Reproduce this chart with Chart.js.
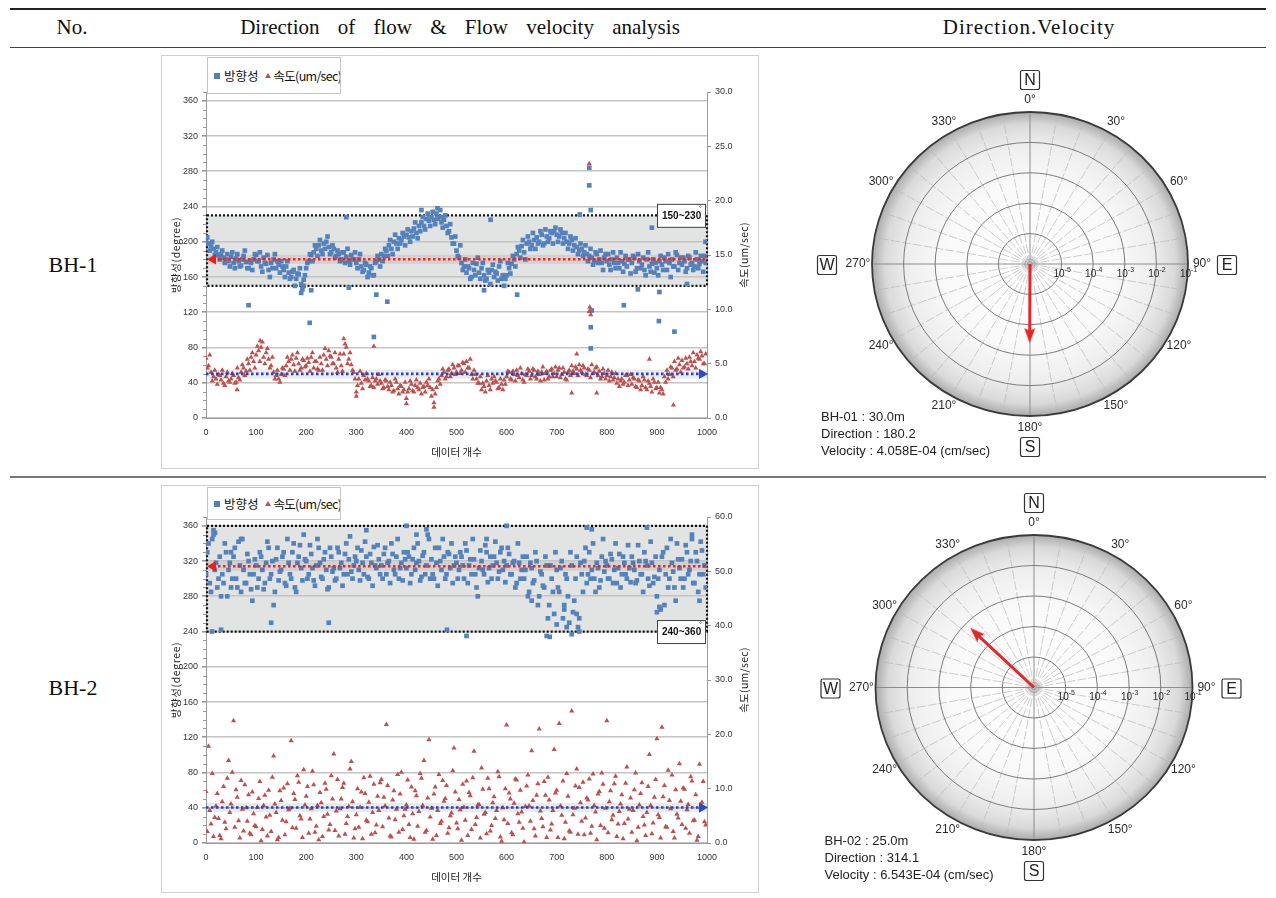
<!DOCTYPE html>
<html><head><meta charset="utf-8">
<script src="https://cdn.jsdelivr.net/npm/chart.js@4.4.1/dist/chart.umd.min.js"></script>
<style>
body{margin:0;background:#fff;width:1276px;height:898px;position:relative;overflow:hidden;font-family:"Liberation Serif",serif;color:#111}
.hl{position:absolute;left:10px;width:1256px}
.frame{position:absolute;border:1px solid #cfcfcf;box-sizing:border-box;pointer-events:none}
.hdr{position:absolute;top:15px;font-size:21px;white-space:nowrap;transform:translateX(-50%)}
.bh{position:absolute;font-size:22px;transform:translate(-50%,-50%);white-space:nowrap}
.legend{position:absolute;background:#fff;border:1px solid #c4c4c4;box-sizing:border-box;font-family:"Noto Sans CJK KR";font-size:12.5px;color:#111;display:flex;align-items:center;padding-left:6px;white-space:nowrap;overflow:hidden}
.sq{flex:none;display:block;width:6px;height:6px;min-width:6px;background:#4f81bd;margin-right:4px}
.tri{flex:none;display:block;width:0;height:0;border-left:3px solid transparent;border-right:3px solid transparent;border-bottom:5px solid #c0504d;margin:0 3px 0 6px}
.sp{letter-spacing:-0.7px}
canvas{position:absolute}
</style></head>
<body>
<div class="hl" style="top:8px;height:2px;background:#222"></div>
<div class="hl" style="top:47px;height:1px;background:#444"></div>
<div class="hl" style="top:476px;height:2px;background:#777"></div>
<div class="hdr" style="left:72px">No.</div>
<div class="hdr" style="left:460px;word-spacing:13px">Direction of flow &amp; Flow velocity analysis</div>
<div class="hdr" style="left:1029px;letter-spacing:1px">Direction.Velocity</div>
<div class="bh" style="left:73px;top:265px">BH-1</div>
<div class="bh" style="left:73px;top:688px">BH-2</div>

<canvas id="c1" width="598" height="414" style="left:161px;top:55px"></canvas>
<div class="frame" style="left:161px;top:55px;width:598px;height:414px"></div>
<div class="legend" style="left:207px;top:57px;width:134px;height:37px"><span class="sq"></span><span>방향성</span><span class="tri"></span><span class="sp">속도(um/sec)</span></div>

<canvas id="c2" width="598" height="408" style="left:161px;top:485px"></canvas>
<div class="frame" style="left:161px;top:485px;width:598px;height:408px"></div>
<div class="legend" style="left:207px;top:487px;width:134px;height:33px"><span class="sq"></span><span>방향성</span><span class="tri"></span><span class="sp">속도(um/sec)</span></div>

<canvas id="p1" width="460" height="415" style="left:800px;top:55px"></canvas>
<canvas id="p2" width="460" height="420" style="left:800px;top:478px"></canvas>

<script>
// ---------------- DATA ----------------
const xStep = 5;      // data-count spacing of the sampled points (set A at 0,5,10..., set B at 2.5,7.5,...)
const bh1Dir = [
200,198,195,192,188,185,186,182,180,178,
183,176,181,178,173,184,177,170,176,180,
185,178,172,182,175,168,176,180,170,174,
178,168,172,165,160,168,158,163,152,157,
170,178,185,188,192,196,190,198,200,194,
188,192,184,186,180,188,183,178,185,180,
176,180,172,168,174,165,170,162,178,180,
186,184,190,196,192,200,198,204,202,206,
208,205,212,215,210,218,222,218,226,224,
228,225,232,228,222,225,218,212,205,198,
190,182,176,172,165,170,160,168,175,165,
170,162,158,165,168,160,164,172,158,150,
162,170,175,180,186,190,195,188,198,200,
196,202,205,200,208,198,206,204,210,212,
208,206,210,204,200,198,202,196,194,190,
192,188,186,184,182,178,186,180,176,182,
178,174,180,176,182,170,178,175,172,180,
176,182,170,178,174,168,180,172,175,165,
170,178,174,182,168,176,180,172,185,176,
174,178,170,182,176,172,180,175,178,184];
const bh1DirB = [
205,190,200,185,194,180,190,176,186,172,
188,170,186,172,180,190,170,178,168,186,
178,188,166,176,185,160,170,186,178,165,
172,160,178,158,166,150,164,170,146,162,
176,186,178,196,184,202,186,192,206,186,
196,182,190,178,188,176,192,174,180,188,
170,186,166,176,160,172,162,176,184,172,
178,192,184,202,186,208,192,198,210,196,
214,200,206,222,204,212,228,214,232,218,
234,220,226,236,216,230,210,220,198,206,
184,196,168,180,172,158,176,162,182,158,
176,156,168,152,174,166,156,178,162,158,
176,164,184,172,194,182,202,180,206,192,
210,192,198,212,196,214,200,212,198,216,
200,214,198,210,192,206,190,204,186,198,
184,196,178,192,174,188,176,190,168,186,
186,168,188,170,176,188,166,184,180,164,
184,166,186,170,182,162,188,166,180,176,
162,184,168,178,186,160,172,188,168,182,
182,166,184,174,168,188,170,184,166,176];
const bh1DirOutX = [85,190,195,207,210,280,285,335,340,362,555,568,621,746,765,765,768,768,768,770,834,862,890,904,935,905,960,997,430,462,470];
const bh1DirOutY = [128,142,150,108,145,228,148,92,140,132,145,225,140,231,284,264,236,103,79,122,128,146,216,110,98,143,152,200,236,238,228];
const bh1Spd = [
5.5,4.8,4.2,3.8,3.6,4.0,3.5,3.2,3.8,3.4,
3.6,3.9,3.3,3.7,4.2,4.6,4.3,5.0,5.6,5.2,
5.8,6.2,6.5,5.6,6.0,5.4,4.8,4.2,3.9,3.6,
4.0,4.5,4.8,5.2,5.4,4.9,5.5,5.0,4.6,5.3,
4.8,5.1,5.6,4.6,5.2,4.4,5.0,5.8,5.4,6.2,
5.6,5.0,4.6,5.4,4.8,5.9,6.5,5.4,4.9,4.2,
2.4,3.6,3.2,3.9,4.1,3.4,3.0,2.8,3.6,4.0,
3.2,2.8,3.4,2.6,3.0,2.5,3.3,2.2,2.9,2.6,
1.8,2.7,3.1,2.4,3.5,2.6,2.2,2.9,3.3,3.6,
2.0,1.4,2.8,3.6,3.9,4.2,3.8,4.5,4.1,4.6,
4.2,4.8,4.4,5.0,5.2,4.6,4.0,4.4,3.6,3.2,
2.6,2.9,3.4,3.0,3.6,3.8,3.3,2.8,3.1,3.5,
3.8,4.2,3.5,4.0,4.4,3.7,4.1,3.3,3.9,4.3,
3.9,4.4,3.6,4.0,4.2,3.5,4.3,3.8,4.5,4.1,
3.8,4.6,4.0,4.2,3.5,4.4,4.8,4.1,4.5,4.9,
4.2,4.6,3.9,4.4,4.9,4.2,4.7,4.3,3.8,4.1,
3.9,3.4,4.2,3.7,3.2,2.9,3.6,3.3,3.9,3.5,
3.1,3.6,2.8,3.4,3.0,3.5,2.6,3.2,2.4,3.3,
2.8,2.3,2.6,3.8,4.4,4.0,4.6,5.2,4.5,4.9,
5.3,4.7,5.0,5.6,4.8,5.2,5.8,5.4,5.7,5.0];
const bh1SpdB = [
4.6,5.8,3.4,4.4,3.1,3.9,4.4,3.0,4.2,3.3,
4.1,3.2,4.6,3.5,4.9,3.9,5.4,4.4,6.0,4.6,
6.6,5.2,7.0,5.0,6.4,4.6,5.6,3.6,4.4,3.3,
4.6,3.9,5.6,4.4,5.8,4.3,6.0,4.4,5.4,4.7,
5.5,4.3,6.0,5.2,4.5,5.6,4.4,6.4,4.8,5.7,
5.0,6.0,4.2,5.9,4.3,6.8,5.0,6.0,4.4,3.6,
3.0,4.3,2.7,3.5,3.6,2.9,3.7,3.4,3.1,3.4,
2.7,3.5,2.9,3.3,2.4,3.6,2.7,3.0,2.4,3.3,
2.4,3.4,2.5,3.0,2.8,3.2,2.8,2.4,3.0,2.8,
2.6,2.2,3.4,3.1,4.5,3.6,4.4,3.8,4.9,4.0,
4.8,4.1,5.1,4.2,4.6,5.4,3.6,4.0,3.2,3.8,
3.2,2.4,3.9,2.6,3.2,3.4,2.7,3.6,2.6,3.1,
4.3,3.6,4.3,3.4,3.9,4.6,3.5,4.0,4.5,3.6,
4.5,3.8,4.3,3.4,4.7,4.1,3.6,4.4,3.8,4.7,
4.4,3.7,4.6,3.6,4.2,3.9,4.3,4.7,3.9,4.4,
4.8,4.0,4.5,3.7,4.1,4.6,3.9,3.6,4.5,3.6,
4.4,3.8,3.5,4.1,3.6,3.4,3.1,3.9,3.0,4.0,
3.7,2.9,3.5,2.6,3.8,2.8,3.4,2.9,3.6,2.7,
3.3,2.8,2.2,3.3,3.6,4.7,3.8,4.4,5.5,4.2,
4.6,5.5,4.5,5.2,6.0,4.6,5.5,6.1,5.0,5.9];
const bh1SpdOutX = [765,766,768,765,740,933,885,335,275,108,62,400,455,300,730,780];
const bh1SpdOutY = [9.8,10.2,9.5,23.4,5.9,1.2,5.4,6.6,7.3,7.1,2.6,1.3,1.0,2.0,2.3,2.3];

const bh2Dir = [
305,340,285,350,318,300,280,295,330,310,
290,325,300,342,285,310,295,320,288,305,
315,300,325,288,318,335,305,270,322,298,
310,330,292,318,300,340,285,325,312,350,
320,305,328,298,315,335,302,322,310,290,
325,312,300,330,318,305,340,322,308,315,
320,310,332,305,325,300,318,336,312,322,
315,328,305,320,340,310,325,300,318,330,
312,325,305,335,318,320,302,330,315,345,
322,300,318,335,310,325,305,328,340,315,
318,310,325,300,332,315,305,322,290,312,
320,305,330,312,300,325,318,308,335,320,
315,328,305,320,295,318,310,300,325,285,
312,298,320,280,305,290,315,270,300,260,
310,285,320,265,300,250,315,275,325,255,
305,320,295,330,310,300,318,290,325,308,
315,300,322,310,295,328,305,318,300,312,
325,310,298,320,305,330,315,292,318,302,
280,310,325,270,335,300,318,290,340,312,
322,300,330,310,345,295,320,305,332,315];
const bh2DirB = [
330,295,345,310,290,325,305,340,280,318,
300,335,290,315,345,295,328,305,275,322,
290,330,310,295,342,300,320,285,335,308,
325,295,345,305,330,290,318,338,298,322,
300,338,312,292,345,318,300,330,288,335,
308,298,335,312,292,328,305,348,300,325,
335,298,318,342,302,328,292,315,338,305,
300,335,318,295,328,305,345,312,298,322,
330,295,322,310,340,298,326,305,350,300,
305,335,292,320,345,300,330,312,295,325,
300,330,315,340,295,322,345,305,280,332,
310,338,296,325,315,342,300,330,310,296,
335,305,318,290,340,300,325,310,280,318,
295,330,270,308,292,325,255,315,285,330,
290,312,255,305,280,330,262,300,245,318,
285,335,305,300,340,285,312,298,345,320,
300,328,295,340,312,290,325,305,338,296,
318,295,338,305,285,320,300,342,295,325,
300,265,330,305,290,345,308,275,322,300,
290,338,305,320,295,330,285,342,305,290];
const bh2DirOutX = [12,30,15,18,130,245,400,440,481,520,600,680,686,730,745,760,770,880,900,905,50,70,320,420,560,650,700,720,715,740,970,985];
const bh2DirOutY = [240,242,355,352,250,250,360,356,242,235,360,235,234,237,240,358,356,358,262,268,330,345,355,350,345,275,248,245,270,260,350,275];
const bh2Spd = [
9.5,17.8,3.5,1.2,6.8,4.5,0.8,10.4,2.6,15.2,
7.2,22.5,9.8,4.1,11.5,2.2,6.5,8.9,1.5,5.4,
3.0,8.2,0.4,6.9,4.8,9.7,2.1,16.0,5.6,1.0,
7.8,10.1,3.9,6.1,18.8,9.1,2.7,11.2,4.4,13.5,
8.6,1.8,6.3,10.7,3.1,0.6,7.4,4.9,9.9,2.4,
12.4,16.4,5.9,1.3,8.1,11.0,3.6,6.7,15.0,0.9,
5.2,2.9,9.4,12.0,4.2,7.5,1.6,10.8,3.3,6.0,
11.7,8.4,21.8,4.6,1.1,9.6,6.2,2.0,13.0,5.0,
7.0,3.4,10.3,0.7,8.7,5.8,11.9,15.2,2.3,19.0,
6.4,9.0,1.4,12.6,4.0,7.7,10.6,2.8,5.5,17.5,
3.7,8.0,0.5,6.6,11.4,9.3,2.5,16.9,4.7,7.1,
13.8,5.3,1.7,10.0,3.2,8.5,6.0,12.2,0.3,4.3,
21.7,9.2,1.9,7.3,11.6,3.8,5.7,0.2,10.5,6.8,
17.0,2.6,8.8,21.0,4.5,11.3,1.0,7.9,3.5,17.2,
9.7,22.0,5.1,0.8,12.8,2.2,24.3,6.4,13.6,10.2,
4.0,1.5,8.3,11.8,3.1,6.9,0.6,9.5,12.9,2.7,
22.5,7.6,4.3,10.9,1.2,5.8,8.9,3.6,14.0,6.2,
2.0,9.8,0.4,7.0,11.1,3.3,5.6,16.3,1.7,8.4,
19.2,4.7,21.3,10.6,2.9,7.8,12.5,0.9,5.3,14.6,
3.4,9.9,6.1,1.8,11.4,4.2,0.5,14.5,7.5,3.9];
const bh2SpdB = [
2.1,6.0,12.8,4.7,9.1,1.4,7.6,3.8,11.9,5.6,
13.0,2.9,8.4,0.9,6.2,10.7,4.0,1.8,9.4,3.2,
6.6,11.3,2.5,8.8,1.3,5.1,12.1,7.2,0.6,9.6,
4.2,1.5,10.9,6.4,2.8,8.0,12.4,5.0,1.0,7.0,
10.4,4.4,13.2,2.0,6.9,9.3,1.2,11.0,5.3,3.4,
8.1,2.3,11.7,6.3,10.2,1.6,4.9,13.6,7.6,2.6,
10.0,6.6,0.8,9.1,3.9,12.3,5.6,1.9,8.6,11.1,
3.0,6.8,10.6,1.3,7.9,4.3,12.6,9.0,2.5,6.2,
11.6,1.0,5.4,9.6,3.1,12.8,6.9,2.0,8.3,4.8,
0.7,10.3,6.0,3.6,11.5,8.2,1.8,5.0,13.3,9.4,
2.6,6.1,10.8,4.2,1.4,8.7,12.0,3.4,7.0,0.9,
9.9,5.6,11.9,2.2,7.4,4.5,13.1,1.1,6.5,10.0,
3.6,8.1,1.5,11.8,5.4,9.7,2.7,6.7,12.5,4.0,
7.8,1.3,10.9,5.9,3.0,8.8,12.1,2.4,6.0,9.2,
1.0,6.8,11.4,3.8,8.6,2.0,5.2,10.5,1.6,7.4,
11.2,4.6,7.9,1.8,12.7,5.7,9.0,3.2,10.8,6.4,
1.9,9.6,5.1,12.3,3.5,7.2,0.8,11.0,4.4,8.3,
6.0,12.9,2.9,9.1,4.9,1.4,10.4,6.9,3.7,11.7,
5.2,0.9,8.5,3.0,13.4,6.3,2.1,9.8,4.6,7.7,
10.1,2.7,7.1,12.2,4.1,8.9,1.2,6.5,11.3,3.3];

const meanDir = [180.2, 314.1];          // degree
const meanVel = [4.058, 6.543];          // um/sec
const bandLo = [150, 240];
const bandHi = [230, 360];
const bandText = ['150~230', '240~360'];
const rightMax = [30, 60];
const rightStep = [5, 10];
const xTicks = [0,100,200,300,400,500,600,700,800,900,1000];

const polarLabel = ['BH-01 : 30.0m', 'BH-02 : 25.0m'];
const polarDir = [180.2, 314.1];
const polarVel = [4.058e-4, 6.543e-4];   // cm/sec
const compassDeg = [0,30,60,90,120,150,180,210,240,270,300,330];
const logRings = [-5,-4,-3,-2,-1];

// ---------------- HELPERS ----------------
const pts = (vals, off) => vals.map((v,i)=>({x:i*xStep + off, y:v}));
const outPts = (xs, ys) => xs.map((x,i)=>({x, y:ys[i]}));

const deco = {
  id:'deco',
  beforeDraw(chart, args, o){
    const {ctx, chartArea:a, scales:{y}} = chart;
    const top = y.getPixelForValue(o.hi), bot = y.getPixelForValue(o.lo);
    ctx.save(); ctx.fillStyle = '#e2e3e3';
    ctx.fillRect(a.left, top, a.right-a.left, bot-top);
    ctx.restore();
  },
  beforeDatasetsDraw(chart, args, o){
    const {ctx, chartArea:a, scales:{y}} = chart;
    const top = y.getPixelForValue(o.hi), bot = y.getPixelForValue(o.lo);
    ctx.save();
    ctx.strokeStyle = '#111'; ctx.lineWidth = 2.2; ctx.setLineDash([2,2]);
    ctx.strokeRect(a.left+1, top, a.right-a.left-1, bot-top);
    ctx.setLineDash([]);
    ctx.strokeStyle = '#999'; ctx.lineWidth = 1;
    for (let v = 10; v <= 370; v += 10) {
      if (v % 40 === 0) continue;
      const py = Math.round(y.getPixelForValue(v)) + 0.5;
      ctx.beginPath(); ctx.moveTo(a.left-3, py); ctx.lineTo(a.left, py); ctx.stroke();
    }
    ctx.restore();
  },
  afterDraw(chart, args, o){
    const {ctx, chartArea:a, scales:{y}} = chart;
    ctx.save();
    const cy = y.getPixelForValue(o.labelAt);
    const bx = a.right-50, bw = 48, bh = 23;
    ctx.fillStyle = '#fff'; ctx.strokeStyle = '#444'; ctx.lineWidth = 1;
    ctx.fillRect(bx, cy-bh/2, bw, bh); ctx.strokeRect(bx+0.5, cy-bh/2+0.5, bw, bh);
    ctx.fillStyle = '#111'; ctx.font = 'bold 10px "Liberation Sans"'; ctx.textBaseline = 'middle';
    ctx.fillText(o.text, bx+5, cy+1);
    ctx.font = '7px "Liberation Sans"'; ctx.fillText('°', bx+bw-6, cy-6);
    ctx.fillStyle = '#222';
    ctx.font = '10.5px "Noto Sans CJK KR"'; ctx.textAlign = 'center'; ctx.textBaseline = 'middle';
    const mid = (a.top + a.bottom)/2;
    ctx.save(); ctx.translate(a.left-30, mid); ctx.rotate(-Math.PI/2);
    ctx.letterSpacing = '0.6px'; ctx.fillText('방향성(degree)', 0, 0); ctx.restore();
    ctx.save(); ctx.translate(a.right+37, mid); ctx.rotate(-Math.PI/2);
    ctx.letterSpacing = '0.3px'; ctx.fillText('속도(um/sec)', 0, 0); ctx.restore();
    ctx.fillText('데이터 개수', (a.left+a.right)/2, a.bottom+34);
    ctx.restore();
  }
};

function scatterChart(id, k, dirs, dirOx, dirOy, spds, spdOx, spdOy, padTop, xH){
  const tickFont = {family:'"Liberation Sans"', size:9};
  const dirData = pts(dirs[0], 0).concat(pts(dirs[1], 2.5), outPts(dirOx, dirOy));
  const spdData = pts(spds[0], 0).concat(pts(spds[1], 2.5), outPts(spdOx, spdOy));
  return new Chart(document.getElementById(id), {
    type:'scatter',
    data:{datasets:[
      {type:'line', data:[{x:14,y:meanDir[k]},{x:1000,y:meanDir[k]}], yAxisID:'y',
       borderColor:'#ff1c1c', borderWidth:2.6, borderDash:[2.5,2.5], pointStyle:'triangle',
       pointRotation:-90, pointRadius:[6,0], pointBackgroundColor:'#f21a1a', pointBorderWidth:0, clip:false, order:0},
      {type:'line', data:[{x:0,y:meanDir[k]},{x:1000,y:meanDir[k]}], yAxisID:'y',
       borderColor:'rgba(80,80,80,0.12)', borderWidth:9, pointRadius:0, order:1},
      {type:'line', data:[{x:0,y:meanVel[k]},{x:990,y:meanVel[k]}], yAxisID:'y1',
       borderColor:'#2444bb', borderWidth:2.6, borderDash:[2.5,2.5], pointStyle:'triangle',
       pointRotation:90, pointRadius:[0,6], pointBackgroundColor:'#2a4cc4', pointBorderWidth:0, clip:false, order:0},
      {type:'line', data:[{x:0,y:meanVel[k]},{x:1000,y:meanVel[k]}], yAxisID:'y1',
       borderColor:'rgba(80,80,80,0.12)', borderWidth:9, pointRadius:0, order:1},
      {data: dirData, yAxisID:'y', pointStyle:'rect', pointRadius:3.3,
       backgroundColor:'#5482bc', borderWidth:0, order:3},
      {data: spdData, yAxisID:'y1', pointStyle:'triangle', pointRadius:3,
       backgroundColor:'#c0504d', borderWidth:0, order:2}
    ]},
    options:{
      responsive:false, animation:false, events:[],
      layout:{padding:{top:padTop,left:0,right:0,bottom:0}, autoPadding:false},
      plugins:{legend:{display:false}, tooltip:{enabled:false},
        deco:{lo:bandLo[k], hi:bandHi[k], text:bandText[k], labelAt: k===0?bandHi[k]:bandLo[k]}},
      scales:{
        x:{type:'linear', min:0, max:1000, afterBuildTicks:s=>{s.ticks = xTicks.map(v=>({value:v}));},
           ticks:{font:tickFont, color:'#333', padding:9, maxRotation:0, callback:v=>String(v)},
           grid:{display:true, drawOnChartArea:false, drawTicks:false},
           border:{color:'#9a9a9a', width:1}, afterFit:s=>{s.height=xH;}},
        y:{position:'left', min:0, max:370,
           ticks:{stepSize:40, includeBounds:false, font:tickFont, color:'#333', padding:4},
           grid:{color:'#c4c4c4', lineWidth:1.6, tickLength:4, tickColor:'#999'},
           border:{color:'#9a9a9a', width:1}, afterFit:s=>{s.width=45;}},
        y1:{position:'right', min:0, max:rightMax[k],
           ticks:{stepSize:rightStep[k], font:tickFont, color:'#333', padding:4, callback:v=>v.toFixed(1)},
           grid:{drawOnChartArea:false, tickLength:4, tickColor:'#999'},
           border:{color:'#9a9a9a', width:1}, afterFit:s=>{s.width=52;}}
      }
    },
    plugins:[deco]
  });
}

scatterChart('c1', 0, [bh1Dir, bh1DirB], bh1DirOutX, bh1DirOutY, [bh1Spd, bh1SpdB], bh1SpdOutX, bh1SpdOutY, 37, 51);
scatterChart('c2', 1, [bh2Dir, bh2DirB], bh2DirOutX, bh2DirOutY, [bh2Spd, bh2SpdB], [], [], 32, 50);

// ---------------- POLAR ----------------
const arrowImg = document.createElement('canvas');
arrowImg.width = 11; arrowImg.height = 15;
(function(){ const c = arrowImg.getContext('2d'); c.fillStyle = '#e3262a';
  c.beginPath(); c.moveTo(5.5,0); c.lineTo(11,15); c.lineTo(5.5,12.5); c.lineTo(0,15); c.closePath(); c.fill(); })();

const polarDeco = {
  id:'polarDeco',
  beforeDatasetsDraw(chart){
    const {ctx, scales:{x,y}} = chart;
    const cx = x.getPixelForValue(0), cy = y.getPixelForValue(0);
    const ux = x.getPixelForValue(1)-cx, uy = cy-y.getPixelForValue(1);
    const R = logRings.length;
    ctx.save();
    ctx.translate(cx,cy); ctx.scale(1, uy/ux);
    const g = ctx.createRadialGradient(0,0,0,0,0,R*ux);
    g.addColorStop(0,'#ffffff'); g.addColorStop(0.55,'#f9f9f9'); g.addColorStop(0.78,'#eeeeee');
    g.addColorStop(0.92,'#d9d9d9'); g.addColorStop(1,'#ababab');
    ctx.beginPath(); ctx.arc(0,0,R*ux,0,Math.PI*2); ctx.fillStyle = g; ctx.fill();
    ctx.restore();
    ctx.save();
    for (let a = 0; a < 360; a += 10) {
      const s = Math.sin(a*Math.PI/180), c = Math.cos(a*Math.PI/180);
      const card = a % 90 === 0;
      ctx.strokeStyle = card ? '#8c8c8c' : '#b9b9b9';
      ctx.lineWidth = card ? 1 : 0.7;
      ctx.setLineDash(card ? [] : [9,2]);
      ctx.beginPath(); ctx.moveTo(cx,cy); ctx.lineTo(cx+R*ux*s, cy-R*uy*c); ctx.stroke();
    }
    ctx.setLineDash([]);
    ctx.strokeStyle = '#7c7c7c'; ctx.lineWidth = 1;
    for (let k = 1; k < R; k++) { ctx.beginPath(); ctx.ellipse(cx,cy,k*ux,k*uy,0,0,Math.PI*2); ctx.stroke(); }
    ctx.strokeStyle = '#a0a0a0'; ctx.lineWidth = 0.8;
    [2.5,5].forEach(r=>{ ctx.beginPath(); ctx.arc(cx,cy,r,0,Math.PI*2); ctx.stroke(); });
    ctx.strokeStyle = '#3a3a3a'; ctx.lineWidth = 1.8;
    ctx.beginPath(); ctx.ellipse(cx,cy,R*ux,R*uy,0,0,Math.PI*2); ctx.stroke();
    ctx.restore();
  },
  afterDraw(chart, args, o){
    const {ctx, scales:{x,y}} = chart;
    const cx = x.getPixelForValue(0), cy = y.getPixelForValue(0);
    const ux = x.getPixelForValue(1)-cx, uy = cy-y.getPixelForValue(1);
    const R = logRings.length, rx = R*ux, ry = R*uy;
    ctx.save();
    ctx.fillStyle = '#2a2a2a'; ctx.textAlign = 'center'; ctx.textBaseline = 'middle';
    ctx.font = '12px "Liberation Sans"';
    compassDeg.forEach(d=>{
      const s = Math.sin(d*Math.PI/180), c = Math.cos(d*Math.PI/180);
      ctx.fillText(d + '°', cx + (rx+14)*s, cy - (ry+12)*c);
    });
    logRings.forEach((e,i)=>{
      const px = cx + (i+1)*ux + 3, py = cy + 10;
      ctx.font = '10px "Liberation Sans"'; ctx.textAlign = 'right';
      ctx.fillText('10', px, py);
      ctx.font = '7px "Liberation Sans"'; ctx.textAlign = 'left';
      ctx.fillText(String(e), px, py-4);
    });
    const box = (lx, ly, t) => {
      ctx.fillStyle = '#fff'; ctx.strokeStyle = '#333'; ctx.lineWidth = 1.2;
      ctx.beginPath(); ctx.roundRect(lx-9.5, ly-9.5, 19, 19, 2); ctx.fill(); ctx.stroke();
      ctx.fillStyle = '#222'; ctx.font = '16px "Liberation Sans"'; ctx.textAlign = 'center'; ctx.textBaseline = 'middle';
      ctx.fillText(t, lx, ly+1);
    };
    box(cx, cy-ry-32, 'N'); box(cx, cy+ry+31, 'S');
    box(cx-rx-45, cy+1, 'W'); box(cx+rx+39, cy+1, 'E');
    ctx.fillStyle = '#222'; ctx.font = '13px "Liberation Sans"'; ctx.textAlign = 'left'; ctx.textBaseline = 'alphabetic';
    const lx = cx - rx - 51, by = cy + ry;
    ctx.fillText(polarLabel[o.k], lx, by+5);
    ctx.fillText('Direction : ' + polarDir[o.k].toFixed(1), lx, by+22);
    ctx.fillText('Velocity : ' + polarVel[o.k].toExponential(3).replace('e-','E-0') + ' (cm/sec)', lx, by+39);
    ctx.restore();
  }
};

function polarChart(id, k, pad){
  const r = logRings.length + 1 + Math.log10(polarVel[k]) - 0.25;
  const a = polarDir[k]*Math.PI/180;
  const tip = {x: r*Math.sin(a), y: r*Math.cos(a)};
  return new Chart(document.getElementById(id), {
    type:'scatter',
    data:{datasets:[{type:'line', data:[{x:0,y:0}, tip], borderColor:'#e3262a', borderWidth:3,
      pointStyle:(c)=>c.dataIndex===1?arrowImg:'circle', pointRadius:[0,7], pointRotation:[0,polarDir[k]],
      borderCapStyle:'butt', clip:false}]},
    options:{responsive:false, animation:false, events:[],
      layout:{padding:pad, autoPadding:false},
      plugins:{legend:{display:false}, tooltip:{enabled:false}, polarDeco:{k}},
      scales:{x:{type:'linear', min:-5, max:5, display:false}, y:{type:'linear', min:-5, max:5, display:false}}},
    plugins:[polarDeco]
  });
}
polarChart('p1', 0, {left:72, right:72, top:57, bottom:54});
polarChart('p2', 1, {left:75.5, right:67.5, top:57, bottom:58});
</script>
</body></html>
